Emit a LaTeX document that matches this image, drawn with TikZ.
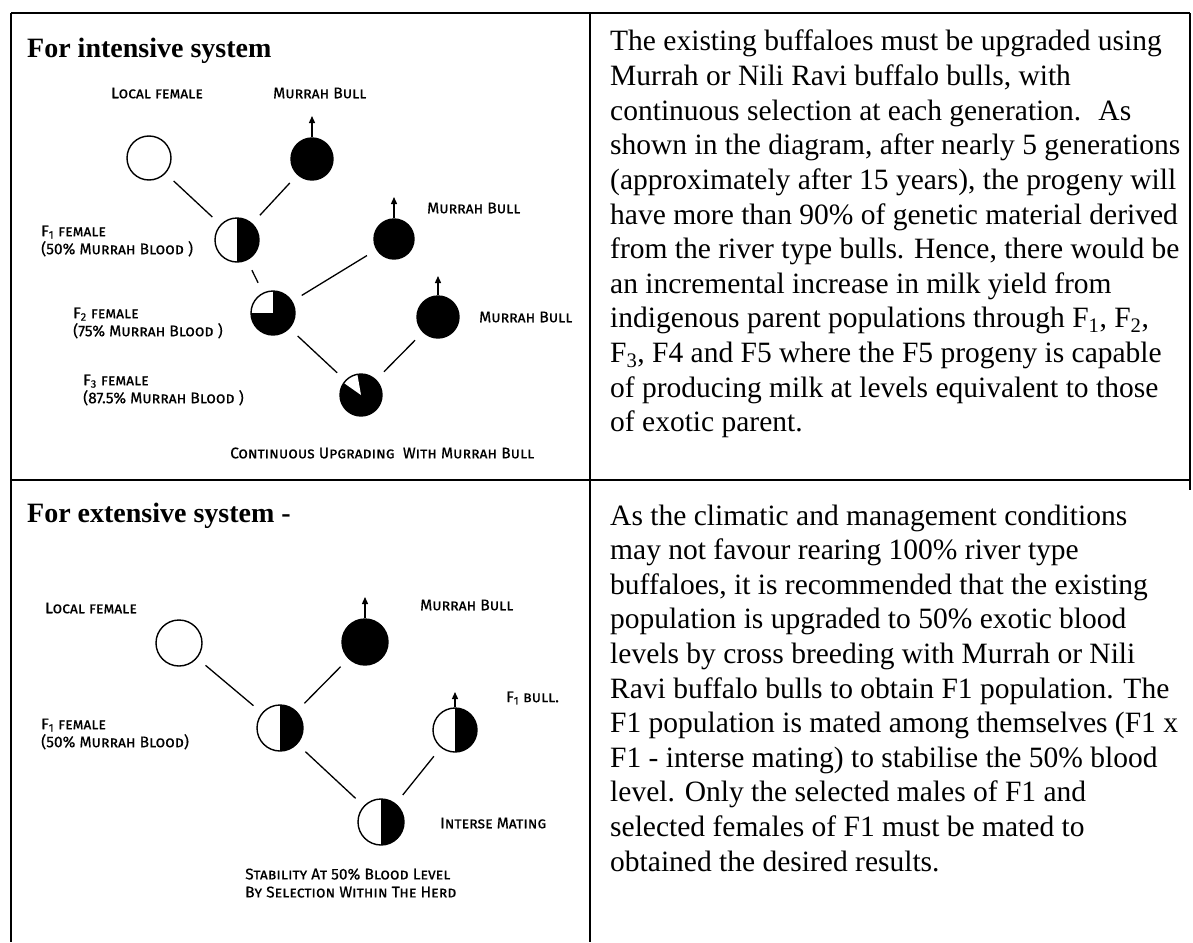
\documentclass[tikz,border=0pt]{standalone}
\usepackage{fontspec}
\setmainfont{Liberation Serif}
\newfontfamily\lblfont{Fira Sans}[Letters=SmallCaps, FakeBold=0.5]
\usetikzlibrary{arrows.meta}

\tikzset{
  rule/.style={line width=1.6pt},
  link/.style={line width=1.3pt, shorten <=11pt, shorten >=11pt},
  rise/.style={line width=1.3pt, -{Triangle[length=7pt,width=6pt]}},
  cow/.style={circle, draw, line width=1.4pt, inner sep=0pt, minimum size=44pt},
  bull/.style={cow, fill=black},
  half/.style={cow, path picture={
      \fill (path picture bounding box.north) rectangle (path picture bounding box.south east);}},
  quarter/.style={cow, path picture={
      \fill (path picture bounding box.south west) rectangle (path picture bounding box.north east);
      \fill[white] (path picture bounding box.center) rectangle (path picture bounding box.north west);}},
  eighth/.style={cow, path picture={
      \fill (path picture bounding box.south west) rectangle (path picture bounding box.north east);
      \fill[white] (path picture bounding box.center) -- ++(100:30pt)
        arc[start angle=100, end angle=145, radius=30pt] -- cycle;}},
  lbl/.style={font=\lblfont\fontsize{15.5}{18}\selectfont, anchor=west, inner sep=0pt, align=left},
  head/.style={font=\bfseries\fontsize{28}{32}\selectfont, anchor=base west, inner sep=0pt},
  body/.style={font=\fontsize{29.5}{35}\selectfont, anchor=base west, inner sep=0pt},
}

\begin{document}
\begin{tikzpicture}[x=1pt, y=-1pt]
\useasboundingbox (0,0) rectangle (1193,942);

% Table rules
\draw[rule] (11,13) -- (1190,13);
\draw[rule] (11,480) -- (1190,480);
\draw[rule] (11,13) -- (11,942);
\draw[rule] (590,13) -- (590,942);
\draw[rule] (1190,13) -- (1190,490);

% Headings
\node[head] (headA) at (27,57) {For intensive system};
\node[head] (headB) at (27,522) {For extensive system -};

% Intensive system: upgrading
\node[cow] (locA) at (149,158) {};
\node[bull, minimum size=42pt] (bullA) at (312,159) {};
\node[half] (fa) at (237,240) {};
\node[bull, minimum size=40pt] (bullB) at (394,239) {};
\node[quarter] (fb) at (273,313) {};
\node[bull, minimum size=42pt] (bullC) at (438,317) {};
\node[eighth, minimum size=42pt] (fc) at (361,395) {};

\coordinate (tipA) at (312,116);
\coordinate (tipB) at (394,197);
\coordinate (tipC) at (438,276);
\draw[rise] (bullA) -- (tipA);
\draw[rise] (bullB) -- (tipB);
\draw[rise] (bullC) -- (tipC);

\draw[link] (locA) -- (fa);
\draw[link] (bullA) -- (fa);
\draw[link] (fa) -- (fb);
\draw[link] (bullB) -- (fb);
\draw[link] (fb) -- (fc);
\draw[link] (bullC) -- (fc);

\node[lbl] (lblLocA) at (111,93) {Local female};
\node[lbl] (lblBullA) at (273,93) {Murrah Bull};
\node[lbl] (lblBullB) at (427,208) {Murrah Bull};
\node[lbl] (lblBullC) at (479,317) {Murrah Bull};
\node[lbl] (lblFa) at (41,241) {F\textsubscript{1} female\\(50\% Murrah Blood )};
\node[lbl] (lblFb) at (73,323) {F\textsubscript{2} female\\(75\% Murrah Blood )};
\node[lbl] (lblFc) at (83,390) {F\textsubscript{3} female\\(87.5\% Murrah Blood )};
\node[lbl] (lblUp) at (230,453) {Continuous Upgrading \ With Murrah Bull};

% Extensive system: interse mating
\node[cow, minimum size=46pt] (locB) at (179,643) {};
\node[bull, minimum size=46pt] (bullD) at (365,642) {};
\node[half, minimum size=46pt] (fd) at (280,728) {};
\node[half] (fe) at (455,730) {};
\node[half, minimum size=46pt] (ff) at (381,822) {};

\coordinate (tipD) at (365,597);
\coordinate (tipE) at (455,692);
\draw[rise] (bullD) -- (tipD);
\draw[rise] (fe) -- (tipE);

\draw[link] (locB) -- (fd);
\draw[link] (bullD) -- (fd);
\draw[link] (fd) -- (ff);
\draw[link] (fe) -- (ff);

\node[lbl] (lblLocB) at (45,608) {Local female};
\node[lbl] (lblBullD) at (420,605) {Murrah Bull};
\node[lbl] (lblFe) at (506,698) {F\textsubscript{1} bull.};
\node[lbl] (lblFd) at (41,734) {F\textsubscript{1} female\\(50\% Murrah Blood)};
\node[lbl] (lblMate) at (440,823) {Interse Mating};
\node[lbl] (lblStab) at (245,883) {Stability At 50\% Blood Level\\By Selection Within The Herd};

% Right column text
\foreach \ln [count=\i from 0] in {
  {The existing buffaloes must be upgraded using},
  {Murrah or Nili Ravi buffalo bulls, with},
  {continuous selection at each generation. \ As},
  {shown in the diagram, after nearly 5 generations},
  {(approximately after 15 years), the progeny will},
  {have more than 90\% of genetic material derived},
  {from the river type bulls. Hence, there would be},
  {an incremental increase in milk yield from},
  {indigenous parent populations through F\textsubscript{1}, F\textsubscript{2},},
  {F\textsubscript{3}, F4 and F5 where the F5 progeny is capable},
  {of producing milk at levels equivalent to those},
  {of exotic parent.}}
  \node[body] (txtA\i) at (610, 51+34.6*\i) {\ln};

\foreach \ln [count=\i from 0] in {
  {As the climatic and management conditions},
  {may not favour rearing 100\% river type},
  {buffaloes, it is recommended that the existing},
  {population is upgraded to 50\% exotic blood},
  {levels by cross breeding with Murrah or Nili},
  {Ravi buffalo bulls to obtain F1 population. The},
  {F1 population is mated among themselves (F1 x},
  {F1 - interse mating) to stabilise the 50\% blood},
  {level. Only the selected males of F1 and},
  {selected females of F1 must be mated to},
  {obtained the desired results.}}
  \node[body] (txtB\i) at (610, 525+34.6*\i) {\ln};

\end{tikzpicture}
\end{document}
